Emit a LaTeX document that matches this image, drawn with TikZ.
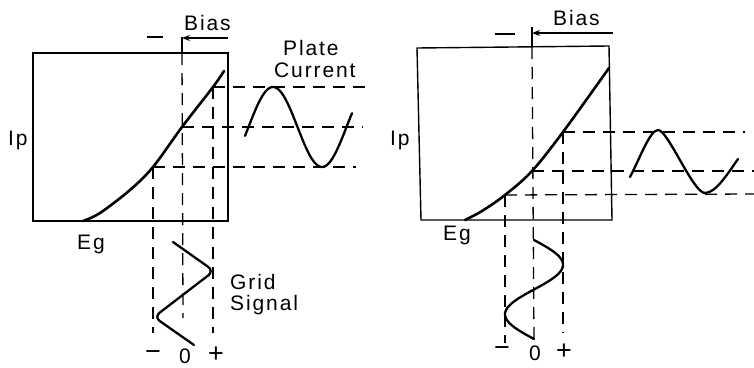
\documentclass[tikz,border=0pt]{standalone}
\usepackage{fontspec}
\setmainfont{Liberation Sans}
\newfontfamily\labfont[LetterSpace=9]{Liberation Sans}
\usetikzlibrary{arrows.meta}
\begin{document}
\begin{tikzpicture}[x=1pt,y=-1pt,
  frame/.style={line width=1.4pt, line join=miter},
  charc/.style={line width=2.6pt, line cap=round, line join=round},
  wave/.style={line width=2.3pt, line cap=round, line join=round},
  guide/.style={line width=1.3pt, dash pattern=on 12pt off 8pt},
  solidtick/.style={line width=1.3pt},
  lab/.style={font=\labfont\fontsize{21}{21}\selectfont, inner sep=0pt, anchor=base west},
  sym/.style={font=\labfont\fontsize{21}{21}\selectfont, inner sep=0pt},
  bigsym/.style={font=\fontsize{27}{27}\selectfont, inner sep=0pt},
  biasarrow/.style={line width=1.3pt, -{Stealth[length=8pt,width=6pt]}}
]
\useasboundingbox (0,0) rectangle (754,367);

% ================= LEFT DIAGRAM =================
\coordinate (LTL) at (33,53);
\coordinate (LBR) at (228,221);
\draw[frame] (LTL) rectangle (LBR);

% characteristic curve
\coordinate (LS) at (83,221);
\coordinate (L1) at (153,167);
\coordinate (L0) at (182,127);
\coordinate (L2) at (213,87);
\coordinate (LE) at (224,71);
\draw[charc] plot[smooth, tension=0.55] coordinates {(LS) (100,213) (130,190) (L1) (L0) (L2) (LE)};

% vertical guides
\coordinate (L1b) at (153,333);
\coordinate (L2b) at (213,333);
\coordinate (L0t) at (182,37);
\coordinate (L0m) at (182,53);
\coordinate (L0b) at (183,318);
\draw[guide] (L1) -- (L1b);
\draw[guide] (L2) -- (L2b);
\draw[guide] (L0m) -- (L0b);
\draw[solidtick] (L0t) -- (L0m);

% horizontal guides
\coordinate (L2r) at (371,87);
\coordinate (L0r) at (363,127);
\coordinate (L1r) at (356,167);
\draw[guide] (L2) -- (L2r);
\draw[guide] (L0) -- (L0r);
\draw[guide] (L1) -- (L1r);

% bias
\coordinate (LDa) at (147,37);
\coordinate (LDb) at (163,37);
\draw[solidtick] (LDa) -- (LDb);
\coordinate (LAs) at (228,38);
\coordinate (LAe) at (182,38);
\draw[biasarrow] (LAs) -- (LAe);

% plate current wave
\draw[wave] plot[domain=245:352, samples=80] (\x,{127-40*cos(3.6735*(\x-273))});

% grid signal
\coordinate (LG0) at (173,242);
\coordinate (LG1) at (214,271);
\coordinate (LG2) at (154,317);
\coordinate (LG3) at (194,345);
\draw[wave, rounded corners=7pt] (LG0) -- (LG1) -- (LG2) -- (LG3);

% labels
\node[lab] (lbias) at (184,30) {Bias};
\node[lab] (lplate) at (283,55) {Plate};
\node[lab] (lcurr) at (274,77) {Current};
\node[lab] (lip) at (8,145) {Ip};
\node[lab] (leg) at (77,249) {Eg};
\node[lab] (lgrid) at (230,289) {Grid};
\node[lab] (lsig) at (230,310) {Signal};
\node[bigsym] (lminus) at (153,356) {−};
\node[sym] (lzero) at (185,356) {0};
\node[bigsym] (lplus) at (216,355) {+};

% ================= RIGHT DIAGRAM =================
\coordinate (RTL) at (417,48);
\coordinate (RTR) at (609,46);
\coordinate (RBR) at (612,220);
\coordinate (RBL) at (421,220);
\draw[frame] (RTL) -- (RTR) -- (RBR) -- (RBL) -- cycle;

\coordinate (RS) at (465,220);
\coordinate (R1) at (505,195);
\coordinate (R0) at (532,171);
\coordinate (R2) at (563,132);
\coordinate (RE) at (609,68);
\draw[charc] plot[smooth, tension=0.55] coordinates {(RS) (482,211) (R1) (R0) (R2) (RE)};

% vertical guides
\coordinate (R1b) at (505,343);
\coordinate (R2b) at (563,333);
\coordinate (R0t) at (532,27);
\coordinate (R0m) at (532,47);
\coordinate (R0b) at (534,340);
\draw[guide] (R1) -- (R1b);
\draw[guide] (R2) -- (R2b);
\draw[guide] (R0m) -- (R0b);
\draw[solidtick] (R0t) -- (R0m);

% horizontal guides
\coordinate (R2r) at (745,132);
\coordinate (R0r) at (754,171);
\coordinate (R1r) at (754,194);
\draw[guide] (R2) -- (R2r);
\draw[guide] (R0) -- (R0r);
\draw[guide] (R1) -- (R1r);

% bias
\coordinate (RDa) at (495,34);
\coordinate (RDb) at (515,34);
\draw[solidtick] (RDa) -- (RDb);
\coordinate (RAs) at (613,33);
\coordinate (RAe) at (532,33);
\draw[biasarrow] (RAs) -- (RAe);

% plate current wave (distorted)
\coordinate (RP0) at (630,177);
\coordinate (RP1) at (658,130);
\coordinate (RP2) at (705,193);
\coordinate (RP3) at (738,159);
\draw[wave] (RP0) .. controls (640,158) and (650,130) .. (RP1)
  .. controls (668,130) and (693,193) .. (RP2)
  .. controls (716,193) and (728,173) .. (RP3);

% grid signal
\draw[wave] plot[domain=240:339, samples=80] ({534+29*sin(3.636*(\x-240))},\x);

% labels
\node[lab] (rbias) at (553,25) {Bias};
\node[lab] (rip) at (390,145) {Ip};
\node[lab] (reg) at (443,240) {Eg};
\node[bigsym] (rminus) at (502,352) {−};
\node[sym] (rzero) at (535,353) {0};
\node[bigsym] (rplus) at (564,352) {+};
\end{tikzpicture}
\end{document}
